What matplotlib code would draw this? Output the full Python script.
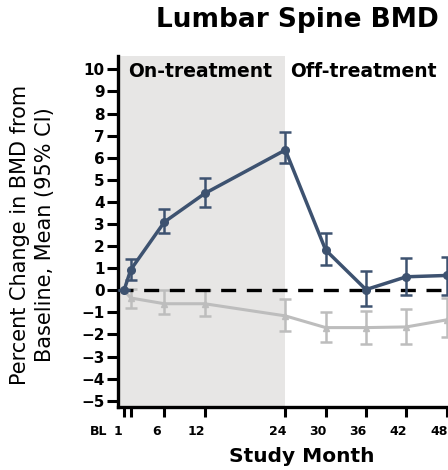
import matplotlib
matplotlib.use("Agg")
import matplotlib.pyplot as plt
import matplotlib.transforms as mtransforms

# data (percent change, mean and 95% CI)
months = [0, 1, 6, 12, 24, 30, 36, 42, 48]
tick_labels = ["BL", "1", "6", "12", "24", "30", "36", "42", "48"]

active_mean = [0.0, 0.93, 3.09, 4.38, 6.35, 1.82, 0.03, 0.61, 0.67]
active_low = [0.0, 0.46, 2.58, 3.77, 5.74, 1.14, -0.70, -0.20, -0.20]
active_high = [0.0, 1.41, 3.66, 5.06, 7.17, 2.57, 0.88, 1.45, 1.52]

placebo_mean = [0.0, -0.35, -0.61, -0.61, -1.16, -1.69, -1.69, -1.66, -1.34]
placebo_low = [0.0, -0.80, -1.08, -1.16, -1.84, -2.36, -2.43, -2.43, -2.10]
placebo_high = [0.0, 0.05, 0.0, 0.0, -0.38, -0.99, -0.96, -0.84, -0.35]

on_treatment_end = 24.0

blue = "#3d5270"
grey = "#bdbdbd"

fig = plt.figure(figsize=(4.48, 4.70), dpi=100)
# axes runs off the right edge, like the cropped original
ax = fig.add_axes([118 / 448, 0.1347, 332 / 448, 0.746])
ax.set_xlim(-0.9, 48.5)
ax.set_ylim(-5.27, 10.6)

ax.axvspan(-0.9, on_treatment_end, color="#e7e6e5", lw=0, zorder=0)

# placebo (grey triangles)
p_err = [[m - lo for m, lo in zip(placebo_mean, placebo_low)],
         [hi - m for m, hi in zip(placebo_mean, placebo_high)]]
ax.errorbar(months, placebo_mean, yerr=p_err, color=grey, lw=2.2,
            marker="^", markersize=5, elinewidth=1.8, capsize=4,
            capthick=1.8, zorder=2)

ax.axhline(0, color="black", lw=2.4, dashes=(4.5, 3.2), zorder=3)

# active treatment (blue circles)
a_err = [[m - lo for m, lo in zip(active_mean, active_low)],
         [hi - m for m, hi in zip(active_mean, active_high)]]
ax.errorbar(months, active_mean, yerr=a_err, color=blue, lw=2.5,
            marker="o", markersize=5.5, elinewidth=1.8, capsize=4,
            capthick=1.8, zorder=4)

ax.text(0.68, 9.92, "On-treatment", fontsize=13.5, fontweight="bold",
        ha="left", va="center")
ax.text(35.6, 9.92, "Off-treatment", fontsize=13.5, fontweight="bold",
        ha="center", va="center")

# axes styling
for side in ["top", "right"]:
    ax.spines[side].set_visible(False)
for side in ["left", "bottom"]:
    ax.spines[side].set_linewidth(2.4)

ax.set_yticks(range(-5, 11))
ax.set_xticks(months)
ax.set_xticklabels(tick_labels)
ax.tick_params(axis="y", length=8, width=2.2, pad=1.5, labelsize=11)
ax.tick_params(axis="x", length=7, width=2.2, pad=6, labelsize=9)
for lab in ax.get_yticklabels() + ax.get_xticklabels():
    lab.set_fontweight("bold")

# x labels in the original sit a bit left of their ticks
shifts = {"BL": -25, "1": -13}
for lab in ax.get_xticklabels():
    dx = shifts.get(lab.get_text(), -8) / 100
    lab.set_transform(lab.get_transform() +
                      mtransforms.ScaledTranslation(dx, 0, fig.dpi_scale_trans))

ax.set_ylabel("Percent Change in BMD from\nBaseline, Mean (95% CI)",
              fontsize=15, linespacing=1.3)
ax.yaxis.set_label_coords(-0.19, 0.49)

fig.text(297 / 448, 1 - 20 / 470, "Lumbar Spine BMD", fontsize=19,
         fontweight="bold", ha="center", va="center")
fig.text(302 / 448, 1 - 457 / 470, "Study Month", fontsize=14.5,
         fontweight="bold", ha="center", va="center")

fig.savefig("out.png", dpi=100)
